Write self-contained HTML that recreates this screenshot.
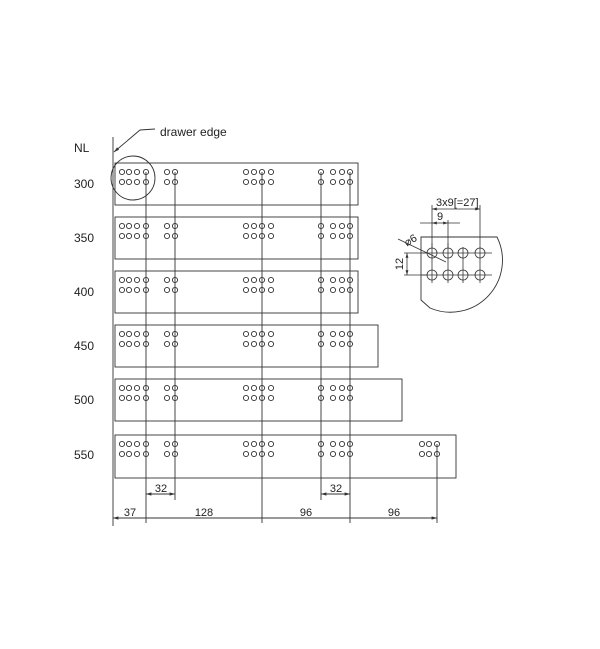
<!DOCTYPE html>
<html><head><style>body{margin:0;background:#fff}svg{display:block}</style></head><body>
<svg width="600" height="649" viewBox="0 0 600 649" xmlns="http://www.w3.org/2000/svg" font-family="Liberation Sans, sans-serif" fill="none" stroke="#333" stroke-width="0.9">
<defs>
<marker id="a" viewBox="0 0 10 10" refX="10" refY="5" markerWidth="6" markerHeight="6" orient="auto-start-reverse"><path d="M0,2 L10,5 L0,8z" fill="#333" stroke="none"/></marker>
<g id="h"><circle r="2.6"/></g>
<g id="r1">
<use href="#h" x="122" y="0"/><use href="#h" x="129" y="0"/><use href="#h" x="137" y="0"/><use href="#h" x="146" y="0"/>
<use href="#h" x="167" y="0"/><use href="#h" x="175" y="0"/>
<use href="#h" x="246" y="0"/><use href="#h" x="254" y="0"/><use href="#h" x="262" y="0"/><use href="#h" x="271" y="0"/>
<use href="#h" x="321" y="0"/><use href="#h" x="333" y="0"/><use href="#h" x="342" y="0"/><use href="#h" x="350" y="0"/>
</g>
<g id="row"><use href="#r1"/><use href="#r1" y="10"/></g>
</defs>
<g fill="#222" stroke="none" font-size="12">
<text x="74" y="152">NL</text>
<text x="74" y="188">300</text><text x="74" y="242">350</text><text x="74" y="296">400</text>
<text x="74" y="350">450</text><text x="74" y="404">500</text><text x="74" y="459">550</text>
<text x="160" y="136">drawer edge</text>
</g>
<path d="M113,137 V526"/>
<path d="M155,129 L140,130 L114,152" marker-end="url(#a)"/>
<circle cx="133" cy="178" r="22"/>
<rect x="115" y="163" width="243" height="42"/>
<rect x="115" y="217" width="243" height="42"/>
<rect x="115" y="271" width="243" height="42"/>
<rect x="115" y="325" width="263" height="42"/>
<rect x="115" y="379" width="287" height="42"/>
<rect x="115" y="435" width="341" height="43"/>
<use href="#row" y="172"/><use href="#row" y="226"/><use href="#row" y="280"/><use href="#row" y="334"/><use href="#row" y="388"/><use href="#row" y="444"/>
<g><use href="#h" x="422" y="444"/><use href="#h" x="429" y="444"/><use href="#h" x="437" y="444"/>
<use href="#h" x="422" y="454"/><use href="#h" x="429" y="454"/><use href="#h" x="437" y="454"/></g>
<path d="M146,172 V523 M175,172 V500 M262,172 V523 M321,172 V500 M350,172 V523 M437,444 V523"/>
<path d="M146,494 H175" marker-start="url(#a)" marker-end="url(#a)"/>
<path d="M321,494 H350" marker-start="url(#a)" marker-end="url(#a)"/>
<path d="M113,518 H146 M146,518 H262 M262,518 H350 M350,518 H437" marker-start="url(#a)" marker-end="url(#a)"/>
<g fill="#222" stroke="none" font-size="11" text-anchor="middle">
<text x="161" y="492">32</text><text x="336" y="492">32</text>
<text x="130" y="516">37</text><text x="204" y="516">128</text><text x="306" y="516">96</text><text x="394" y="516">96</text>
</g>
<path d="M421,300 V237 H497 A52,52 0 0 1 430,308 Z"/>
<g stroke-width="0.8">
<circle cx="432" cy="253" r="5"/><circle cx="448" cy="253" r="5"/><circle cx="463" cy="253" r="5"/><circle cx="480" cy="253" r="5"/>
<circle cx="432" cy="275" r="5"/><circle cx="448" cy="275" r="5"/><circle cx="463" cy="275" r="5"/><circle cx="480" cy="275" r="5"/>
<path d="M422,253 H492 M422,275 H492 M432,243 V283 M448,243 V283 M463,247 V283 M480,247 V283"/>
<path d="M432,205 V248 M480,205 V248 M448,220 V248"/>
<path d="M432,209 H480" marker-start="url(#a)" marker-end="url(#a)"/>
<path d="M420,223 H432 M448,223 H460"/>
<path d="M432,223 H448" marker-start="url(#a)" marker-end="url(#a)"/>
<path d="M404,253 H427 M404,275 H427"/>
<path d="M407,253 V275" marker-start="url(#a)" marker-end="url(#a)"/>
<path d="M398,239 L446,262"/>
</g>
<g fill="#222" stroke="none" font-size="11">
<text x="436" y="206">3x9[=27]</text>
<text x="437" y="220">9</text>
<text x="404" y="244" transform="rotate(-30 410 240)">⌀6</text>
<text x="403" y="264" transform="rotate(-90 403 264)" text-anchor="middle">12</text>
</g>
</svg>
</body></html>
